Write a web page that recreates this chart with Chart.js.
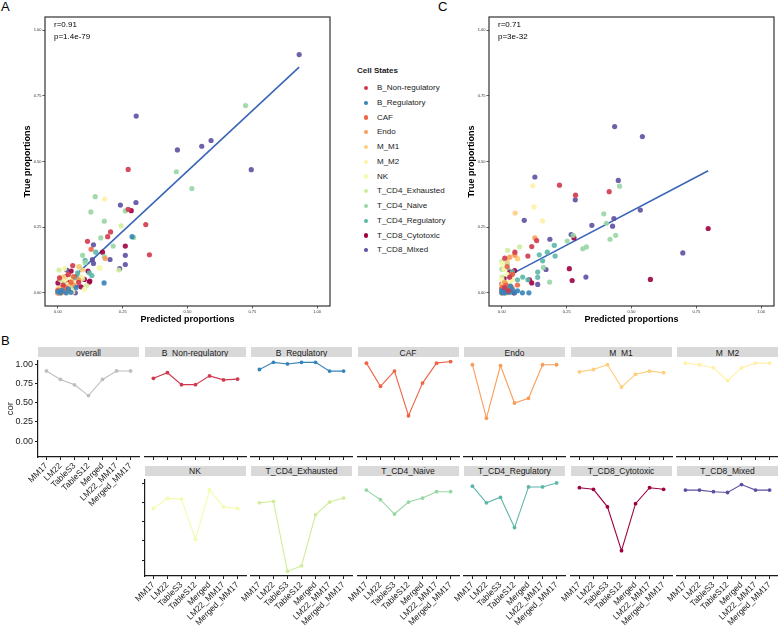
<!DOCTYPE html>
<html>
<head>
<meta charset="utf-8">
<script src="https://cdn.jsdelivr.net/npm/chart.js@4.4.0/dist/chart.umd.min.js"></script>
<style>
body { margin:0; background:#fff; width:778px; height:629px; position:relative; overflow:hidden;
       font-family:"Liberation Sans", Arial, sans-serif; }
canvas { position:absolute; }
.letter { position:absolute; font-size:13px; color:#000; line-height:13px; }
.strip { position:absolute; height:10px; width:101px; background:#d9d9d9; font-size:8.5px; line-height:10px;
         text-align:center; color:#1a1a1a; overflow:hidden; white-space:nowrap; }
.strip.top { line-height:12px; }
#legend { position:absolute; left:0; top:0; font-size:8px; color:#1a1a1a; }
.lt { position:absolute; left:357px; top:66px; font-weight:bold; font-size:8px; white-space:nowrap; }
.li { position:absolute; left:377px; white-space:nowrap; line-height:10px; }
.dot { position:absolute; width:4.4px; height:4.4px; border-radius:50%; }
</style>
</head>
<body>
<div class="letter" style="left:1px;top:0px">A</div>
<div class="letter" style="left:438px;top:0px">C</div>
<div class="letter" style="left:1px;top:334px">B</div>
<div id="legend"><div class="lt">Cell States</div></div>

<script>
// cell states and colours
var cellStates = ["B_Non-regulatory", "B_Regulatory", "CAF", "Endo", "M_M1", "M_M2", "NK",
    "T_CD4_Exhausted", "T_CD4_Naive", "T_CD4_Regulatory", "T_CD8_Cytotoxic", "T_CD8_Mixed"];
var stateColors = ["#d0384e", "#3683ba", "#ee6445", "#fa9c59", "#fece7c", "#fff1a7", "#f4fbad",
    "#d1ec9c", "#98d6a4", "#5cb7a9", "#9e0142", "#5e4fa2"];

// panel A: [predicted, true]
var aBNonReg = [[0.271,0.470],[0.271,0.318],[0.339,0.260],[0.203,0.232],[0.192,0.214],[0.114,0.196],[0.353,0.145],[0.057,0.104],[0.006,0.057],[0.040,0.070],[0.020,0.030],[0.080,0.040]];
var aBReg = [[0.286,0.214],[0.178,0.038],[0.032,0.000],[0.050,0.002],[0.015,0.010],[0.070,0.020],[0.000,0.005],[0.010,0.000],[0.040,0.015]];
var aCAF = [[0.128,0.166],[0.050,0.040],[0.030,0.020],[0.010,0.000],[0.060,0.062],[0.000,0.010],[0.020,0.005]];
var aEndo = [[0.182,0.131],[0.020,0.022],[0.080,0.050],[0.000,0.000],[0.040,0.012],[0.010,0.010],[0.060,0.030]];
var aMM1 = [[0.095,0.087],[0.052,0.044],[0.022,0.062],[0.080,0.100],[0.030,0.000],[0.000,0.015],[0.040,0.025]];
var aMM2 = [[0.180,0.357],[0.057,0.003],[0.030,0.052],[0.090,0.060],[0.010,0.020],[0.070,0.040]];
var aNK = [[0.163,0.094],[0.102,0.013],[0.025,0.092],[0.038,0.032],[0.000,0.003],[0.159,0.096],[0.010,0.060],[0.020,0.000],[0.050,0.060]];
var aExh = [[0.244,0.255],[0.235,0.087],[0.111,0.028],[0.004,0.087],[0.095,0.054],[0.044,0.010],[0.060,0.020],[0.010,0.050],[0.020,0.040]];
var aNaive = [[0.724,0.713],[0.457,0.461],[0.517,0.397],[0.144,0.366],[0.127,0.308],[0.260,0.312],[0.179,0.273],[0.165,0.209],[0.292,0.211],[0.213,0.178],[0.179,0.138],[0.095,0.143],[0.083,0.099],[0.105,0.115]];
var aReg = [[0.146,0.155],[0.105,0.124],[0.131,0.066],[0.076,0.076],[0.121,0.076],[0.064,0.055],[0.019,0.019],[0.040,0.030],[0.080,0.060],[0.000,0.010],[0.030,0.005]];
var aCyto = [[0.283,0.313],[0.260,0.178],[0.172,0.155],[0.116,0.083],[0.102,0.051],[0.121,0.041],[0.089,0.023],[0.051,0.083],[0.029,0.061],[0.000,0.038],[0.006,0.009],[0.123,0.045],[0.040,0.040],[0.000,0.000],[0.070,0.060],[0.010,0.020]];
var aMixed = [[0.931,0.907],[0.302,0.673],[0.555,0.558],[0.591,0.580],[0.461,0.544],[0.746,0.469],[0.241,0.334],[0.301,0.344],[0.137,0.183],[0.260,0.143],[0.201,0.127],[0.137,0.112],[0.260,0.108],[0.238,0.092],[0.034,0.087],[0.070,0.028],[0.067,0.000],[0.133,0.127],[0.020,0.010]];

// panel C: [predicted, true]
var cBNonReg = [[0.222,0.410],[0.414,0.385],[0.284,0.372],[0.134,0.199],[0.115,0.176],[0.100,0.140],[0.011,0.132],[0.050,0.155],[0.030,0.060],[0.010,0.020],[0.025,0.008]];
var cBReg = [[0.079,0.000],[0.104,0.000],[0.049,0.000],[0.033,0.026],[0.040,0.012],[0.060,0.008],[0.000,0.000],[0.020,0.004],[0.010,0.000],[0.030,0.002],[0.015,0.015],[0.000,0.010],[0.005,0.003]];
var cCAF = [[0.020,0.100],[0.040,0.070],[0.000,0.020],[0.060,0.030],[0.005,0.005],[0.015,0.030],[0.030,0.010],[0.000,0.000]];
var cEndo = [[0.127,0.209],[0.030,0.136],[0.050,0.143],[0.010,0.040],[0.000,0.010],[0.020,0.000],[0.010,0.020],[0.040,0.020]];
var cMM1 = [[0.051,0.304],[0.048,0.148],[0.020,0.120],[0.060,0.130],[0.000,0.030],[0.010,0.005],[0.030,0.020]];
var cMM2 = [[0.119,0.408],[0.124,0.327],[0.157,0.274],[0.010,0.090],[0.040,0.050],[0.000,0.000],[0.020,0.015],[0.005,0.040]];
var cNK = [[0.061,0.130],[0.000,0.110],[0.020,0.070],[0.005,0.020],[0.010,0.000],[0.030,0.040],[0.000,0.050]];
var cExh = [[0.068,0.175],[0.022,0.162],[0.000,0.120],[0.005,0.090],[0.000,0.060],[0.010,0.040],[0.020,0.010],[0.000,0.000],[0.010,0.020]];
var cNaive = [[0.454,0.406],[0.393,0.301],[0.403,0.265],[0.275,0.219],[0.252,0.197],[0.439,0.219],[0.417,0.204],[0.312,0.168],[0.326,0.175],[0.160,0.097],[0.184,0.041],[0.000,0.090],[0.020,0.110],[0.010,0.030]];
var cReg = [[0.202,0.181],[0.144,0.145],[0.175,0.155],[0.205,0.140],[0.157,0.122],[0.138,0.079],[0.138,0.059],[0.080,0.060],[0.060,0.050],[0.040,0.080],[0.020,0.095],[0.100,0.050],[0.030,0.020],[0.010,0.010]];
var cCyto = [[0.796,0.245],[0.278,0.209],[0.260,0.092],[0.573,0.051],[0.271,0.047],[0.106,0.050],[0.115,0.038],[0.049,0.085],[0.041,0.076],[0.008,0.054],[0.000,0.034],[0.000,0.005],[0.046,0.000],[0.030,0.080],[0.015,0.035],[0.020,0.015],[0.000,0.015]];
var cMixed = [[0.435,0.633],[0.542,0.595],[0.127,0.441],[0.449,0.428],[0.283,0.354],[0.534,0.315],[0.086,0.276],[0.432,0.283],[0.347,0.257],[0.427,0.254],[0.267,0.222],[0.185,0.204],[0.698,0.152],[0.170,0.089],[0.324,0.060],[0.138,0.032],[0.030,0.060],[0.010,0.000],[0.020,0.030]];

var scatterTicks = [0, 0.25, 0.5, 0.75, 1];

// panel B: correlation per reference
var methods = ["MM17", "LM22", "TableS3", "TableS12", "Merged", "LM22_MM17", "Merged_MM17"];
var corOverall = [0.91, 0.80, 0.73, 0.59, 0.80, 0.91, 0.91];
var corBNonReg = [0.78, 0.85, 0.70, 0.70, 0.81, 0.76, 0.77];
var corBReg = [0.89, 0.98, 0.96, 0.98, 0.98, 0.87, 0.87];
var corCAF = [0.97, 0.68, 0.87, 0.31, 0.72, 0.97, 0.99];
var corEndo = [0.95, 0.28, 0.94, 0.47, 0.53, 0.95, 0.95];
var corMM1 = [0.86, 0.89, 0.95, 0.67, 0.83, 0.87, 0.85];
var corMM2 = [0.97, 0.95, 0.91, 0.75, 0.91, 0.97, 0.97];
var corNK = [0.67, 0.80, 0.79, 0.27, 0.91, 0.69, 0.67];
var corExh = [0.71, 0.73, -0.15, -0.08, 0.56, 0.72, 0.77];
var corNaive = [0.87, 0.75, 0.57, 0.72, 0.77, 0.85, 0.85];
var corReg = [0.92, 0.71, 0.78, 0.40, 0.91, 0.91, 0.96];
var corCyto = [0.90, 0.88, 0.66, 0.11, 0.70, 0.90, 0.88];
var corMixed = [0.87, 0.87, 0.85, 0.84, 0.94, 0.87, 0.87];
var corTicks = [0, 0.25, 0.5, 0.75, 1];

Chart.defaults.font.family = '"Liberation Sans", Arial, sans-serif';
Chart.defaults.color = '#1a1a1a';

function addCanvas(id, left, top, w, h) {
    var c = document.createElement('canvas');
    c.id = id;
    c.width = w;
    c.height = h;
    c.style.left = left + 'px';
    c.style.top = top + 'px';
    c.style.width = w + 'px';
    c.style.height = h + 'px';
    document.body.appendChild(c);
    return c;
}

// legend
var leg = document.getElementById('legend');
cellStates.forEach(function (s, i) {
    var cy = 88 + i * 14.75;
    var d = document.createElement('div');
    d.className = 'dot';
    d.style.left = '363.8px';
    d.style.top = (cy - 2.2) + 'px';
    d.style.background = stateColors[i];
    leg.appendChild(d);
    var t = document.createElement('div');
    t.className = 'li';
    t.style.top = (cy - 5) + 'px';
    t.textContent = s;
    leg.appendChild(t);
});

// scatter panels A and C
function scatterPanel(id, left, w, padLeft, groups, stats) {
    var top = 0, h = 325;
    var cv = addCanvas(id, left, top, w, h);
    var all = [].concat.apply([], groups);
    var n = all.length, mx = 0, my = 0;
    all.forEach(function (p) { mx += p[0] / n; my += p[1] / n; });
    var sxy = 0, sxx = 0;
    all.forEach(function (p) { sxy += (p[0] - mx) * (p[1] - my); sxx += (p[0] - mx) * (p[0] - mx); });
    var slope = sxy / sxx, icpt = my - slope * mx;
    var xs = all.map(function (p) { return p[0]; });
    var x0 = Math.min.apply(null, xs), x1 = Math.max.apply(null, xs);

    var datasets = groups.map(function (g, i) {
        return {
            label: cellStates[i],
            data: g.map(function (p) { return {x: p[0], y: p[1]}; }),
            backgroundColor: stateColors[i] + 'e6',
            borderWidth: 0,
            pointRadius: 2.6,
            order: 0
        };
    });
    datasets.push({
        type: 'line',
        data: [{x: x0, y: icpt + slope * x0}, {x: x1, y: icpt + slope * x1}],
        borderColor: '#3a66b8',
        borderWidth: 1.6,
        pointRadius: 0,
        order: 1
    });

    var box = {
        id: 'box',
        afterDraw: function (chart) {
            var ctx = chart.ctx, a = chart.chartArea;
            ctx.save();
            ctx.strokeStyle = '#333';
            ctx.lineWidth = 1.2;
            ctx.strokeRect(a.left, a.top, a.right - a.left, a.bottom - a.top);
            ctx.fillStyle = '#000';
            ctx.font = '8px "Liberation Sans", Arial, sans-serif';
            ctx.textBaseline = 'middle';
            stats.forEach(function (t, i) { ctx.fillText(t, a.left + 9, a.top + 8 + i * 11.6); });
            ctx.restore();
        }
    };

    var axisGrid = {display: true, drawOnChartArea: false, drawTicks: true, tickLength: 2.5, color: '#333', lineWidth: 0.8};
    new Chart(cv, {
        type: 'scatter',
        data: {datasets: datasets},
        options: {
            responsive: false,
            devicePixelRatio: 1,
            animation: false,
            layout: {padding: {left: padLeft, top: 17, right: 1, bottom: 0}},
            plugins: {legend: {display: false}, tooltip: {enabled: false}},
            scales: {
                x: {
                    type: 'linear', min: -0.05, max: 1.05,
                    afterBuildTicks: function (s) { s.ticks = scatterTicks.map(function (v) { return {value: v}; }); },
                    afterFit: function (s) { s.height = 19; },
                    ticks: {font: {size: 4}, color: '#333', padding: 1, maxRotation: 0,
                        callback: function (v) { return v.toFixed(2); }},
                    grid: axisGrid,
                    border: {display: false},
                    title: {display: true, text: 'Predicted proportions', font: {size: 9, weight: 'bold'}, color: '#000', padding: 0}
                },
                y: {
                    type: 'linear', min: -0.05, max: 1.05,
                    afterBuildTicks: function (s) { s.ticks = scatterTicks.map(function (v) { return {value: v}; }); },
                    afterFit: function (s) { s.width = 23; },
                    ticks: {font: {size: 4}, color: '#333', padding: 1,
                        callback: function (v) { return v.toFixed(2); }},
                    grid: axisGrid,
                    border: {display: false},
                    title: {display: true, text: 'True proportions', font: {size: 9, weight: 'bold'}, color: '#000', padding: 0}
                }
            }
        },
        plugins: [box]
    });
}

scatterPanel('scatterA', 0, 334, 22,
    [aBNonReg, aBReg, aCAF, aEndo, aMM1, aMM2, aNK, aExh, aNaive, aReg, aCyto, aMixed],
    ['r=0.91', 'p=1.4e-79']);
scatterPanel('scatterC', 446, 332, 20,
    [cBNonReg, cBReg, cCAF, cEndo, cMM1, cMM2, cNK, cExh, cNaive, cReg, cCyto, cMixed],
    ['r=0.71', 'p=3e-32']);

// panel B facets (shared y range from all values, 5% expansion)
var allCor = [].concat(corOverall, corBNonReg, corBReg, corCAF, corEndo, corMM1, corMM2,
    corNK, corExh, corNaive, corReg, corCyto, corMixed);
var cMin = Math.min.apply(null, allCor), cMax = Math.max.apply(null, allCor);
var yMin = cMin - 0.05 * (cMax - cMin), yMax = cMax + 0.05 * (cMax - cMin);

function facetPanel(id, col, row, label, vals, color, yMode, showX) {
    var px = 38 + col * 106.5;
    var plotTop = row === 0 ? 357 : 476;
    var strip = document.createElement('div');
    strip.className = 'strip' + (row === 0 ? ' top' : '');
    strip.style.left = px + 'px';
    strip.style.top = (plotTop - 10) + 'px';
    strip.textContent = label;
    document.body.appendChild(strip);

    var cv = addCanvas(id, px - 38, plotTop - 4, 144, 168);
    var axisGrid = {display: true, drawOnChartArea: false, drawTicks: true, tickLength: 3, color: '#1a1a1a', lineWidth: 1};
    var axisBorder = {display: true, color: '#1a1a1a', width: 1.2};
    var yScale = {
        display: !!yMode, min: yMin, max: yMax,
        afterBuildTicks: function (s) { s.ticks = corTicks.map(function (v) { return {value: v}; }); },
        ticks: {font: {size: 9}, color: '#1a1a1a', padding: 2,
            callback: function (v) { return yMode === 'labels' ? v.toFixed(2) : ''; }},
        title: {display: yMode === 'labels', text: 'cor', font: {size: 9.5}, color: '#1a1a1a', padding: {top: 4.3, bottom: 0}},
        grid: axisGrid,
        border: axisBorder
    };
    // only a visible y axis takes room on the left
    if (yMode) yScale.afterFit = function (s) { s.width = 38; };

    new Chart(cv, {
        type: 'line',
        data: {
            datasets: [{
                data: vals.map(function (v, i) { return {x: i, y: v}; }),
                borderColor: color,
                backgroundColor: color,
                borderWidth: 1.1,
                pointRadius: 1.9,
                pointBorderWidth: 0
            }]
        },
        options: {
            responsive: false,
            devicePixelRatio: 1,
            animation: false,
            layout: {padding: {left: yMode ? 0 : 38, top: 4, right: 5, bottom: 0}},
            plugins: {legend: {display: false}, tooltip: {enabled: false}},
            scales: {
                x: {
                    type: 'linear', min: -0.6, max: 6.6,
                    afterBuildTicks: function (s) { s.ticks = methods.map(function (m, i) { return {value: i}; }); },
                    afterFit: function (s) { s.height = 64; },
                    ticks: {display: showX, autoSkip: false, minRotation: 45, maxRotation: 45,
                        font: {size: 8.5}, color: '#1a1a1a', padding: 1,
                        callback: function (v, i) { return methods[i]; }},
                    grid: axisGrid,
                    border: axisBorder
                },
                y: yScale
            }
        }
    });
}

facetPanel('fOverall', 0, 0, 'overall', corOverall, '#bebebe', 'labels', true);
facetPanel('fBNonReg', 1, 0, 'B_Non-regulatory', corBNonReg, stateColors[0], false, false);
facetPanel('fBReg', 2, 0, 'B_Regulatory', corBReg, stateColors[1], false, false);
facetPanel('fCAF', 3, 0, 'CAF', corCAF, stateColors[2], false, false);
facetPanel('fEndo', 4, 0, 'Endo', corEndo, stateColors[3], false, false);
facetPanel('fMM1', 5, 0, 'M_M1', corMM1, stateColors[4], false, false);
facetPanel('fMM2', 6, 0, 'M_M2', corMM2, stateColors[5], false, false);
facetPanel('fNK', 1, 1, 'NK', corNK, stateColors[6], 'ticks', true);
facetPanel('fExh', 2, 1, 'T_CD4_Exhausted', corExh, stateColors[7], false, true);
facetPanel('fNaive', 3, 1, 'T_CD4_Naive', corNaive, stateColors[8], false, true);
facetPanel('fReg', 4, 1, 'T_CD4_Regulatory', corReg, stateColors[9], false, true);
facetPanel('fCyto', 5, 1, 'T_CD8_Cytotoxic', corCyto, stateColors[10], false, true);
facetPanel('fMixed', 6, 1, 'T_CD8_Mixed', corMixed, stateColors[11], false, true);
</script>
</body>
</html>
